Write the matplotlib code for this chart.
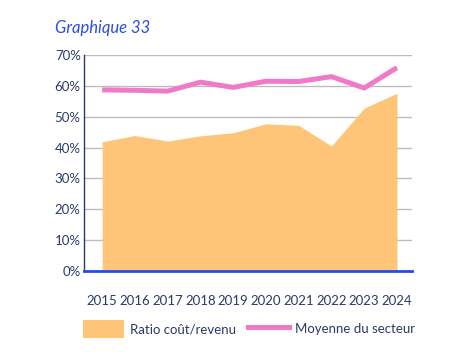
import matplotlib
matplotlib.use("Agg")
import matplotlib.pyplot as plt
from matplotlib.patches import Patch
from matplotlib.lines import Line2D

years = [2015, 2016, 2017, 2018, 2019, 2020, 2021, 2022, 2023, 2024]
ratio = [41.9, 43.9, 42.1, 43.8, 44.8, 47.7, 47.2, 40.5, 52.8, 57.6]
moyenne = [58.7, 58.55, 58.3, 61.2, 59.5, 61.5, 61.4, 63.0, 59.3, 65.9]
yticks = [0, 10, 20, 30, 40, 50, 60, 70]

plt.rcParams['font.family'] = ['Lato', 'DejaVu Sans']
navy = '#2b3a67'
orange = '#fec477'
pink = '#f07ac8'
blue = '#1f4cf0'

fig = plt.figure(figsize=(4.61, 3.62), dpi=100)
ax = fig.add_axes([83.5/461, 1 - 271/362, (411.7-83.5)/461, (271-55)/362])

ax.fill_between(years, ratio, 0, color=orange, linewidth=0, zorder=2)
ax.plot(years, moyenne, color=pink, linewidth=3.6, zorder=3, solid_capstyle='butt')

ax.set_xlim(2014.43, 2024.45)
ax.set_ylim(0, 70)
ax.set_yticks(yticks)
ax.set_yticklabels([f"{v}%" for v in yticks])
ax.set_xticks(years)
ax.set_xticklabels([str(y) for y in years])
ax.grid(axis='y', color='#bdbdbd', linewidth=1, zorder=1)
ax.set_axisbelow(True)
ax.tick_params(axis='both', length=0, labelsize=9.5, colors=navy)
ax.tick_params(axis='x', pad=17)
ax.tick_params(axis='y', pad=2)
for s in ['top', 'right']:
    ax.spines[s].set_visible(False)
ax.spines['left'].set_color(navy)
ax.spines['left'].set_linewidth(1)
ax.spines['bottom'].set_color(blue)
ax.spines['bottom'].set_linewidth(2)
ax.spines['bottom'].set_zorder(4)

fig.text(55/461, 1 - 28/362, "Graphique 33", color='#2a4bf0', fontsize=12,
         style='italic', va='center', ha='left')

handles = [Patch(facecolor=orange, edgecolor='none', label='Ratio coût/revenu'),
           Line2D([0], [0], color=pink, linewidth=3.6, label='Moyenne du secteur')]
fig.legend(handles=handles, loc='center left', bbox_to_anchor=(83/461, 1 - 329/362),
           ncol=2, frameon=False, fontsize=9.5, labelcolor=navy,
           handlelength=3.1, handleheight=1.67, columnspacing=0.9, handletextpad=0.45,
           borderpad=0, borderaxespad=0)

fig.savefig("out.png", dpi=100)
